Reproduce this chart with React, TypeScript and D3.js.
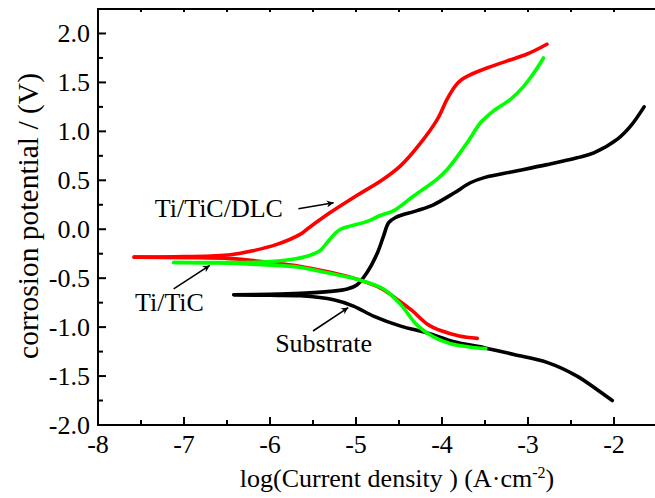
import React from 'react'
import * as d3 from 'd3'

// polarization curves, [log i, E]
const dlcAnodic: [number, number][] = [
  [-7.58, -0.285], [-7.0, -0.28], [-6.46, -0.26], [-6.2, -0.22], [-5.92, -0.155],
  [-5.645, -0.05], [-5.57, 0.0], [-5.3, 0.17], [-5.0, 0.34], [-4.7, 0.5],
  [-4.48, 0.65], [-4.25, 0.88], [-4.056, 1.12], [-3.94, 1.33], [-3.84, 1.47],
  [-3.77, 1.53], [-3.68, 1.575], [-3.47, 1.65], [-3.24, 1.72], [-3.01, 1.79], [-2.78, 1.89],
]
const dlcCathodic: [number, number][] = [
  [-7.58, -0.285], [-7.0, -0.29], [-6.46, -0.3], [-6.0, -0.34], [-5.645, -0.38],
  [-5.3, -0.44], [-4.99, -0.51], [-4.72, -0.6], [-4.5, -0.73], [-4.35, -0.83],
  [-4.17, -0.97], [-4.0, -1.04], [-3.8, -1.09], [-3.59, -1.115],
]
const ticAnodic: [number, number][] = [
  [-7.12, -0.34], [-6.6, -0.34], [-6.1, -0.335], [-5.76, -0.31], [-5.55, -0.27],
  [-5.42, -0.22], [-5.33, -0.13], [-5.25, -0.05], [-5.18, 0.0], [-4.87, 0.08],
  [-4.72, 0.14], [-4.56, 0.19], [-4.33, 0.34], [-4.06, 0.51], [-3.94, 0.61],
  [-3.71, 0.88], [-3.55, 1.09], [-3.4, 1.21], [-3.2, 1.33], [-3.05, 1.46],
  [-2.93, 1.6], [-2.82, 1.75],
]
const ticCathodic: [number, number][] = [
  [-7.12, -0.34], [-6.6, -0.345], [-6.15, -0.36], [-5.645, -0.39], [-5.37, -0.44],
  [-4.99, -0.51], [-4.68, -0.61], [-4.48, -0.77], [-4.29, -0.98], [-4.1, -1.1],
  [-3.9, -1.17], [-3.7, -1.2], [-3.49, -1.22],
]
const subAnodic: [number, number][] = [
  [-6.42, -0.67], [-6.0, -0.665], [-5.645, -0.655], [-5.3, -0.635], [-5.1, -0.61],
  [-4.99, -0.57], [-4.87, -0.44], [-4.75, -0.24], [-4.68, -0.07], [-4.62, 0.067],
  [-4.54, 0.12], [-4.29, 0.19], [-4.1, 0.25], [-3.86, 0.37], [-3.67, 0.475],
  [-3.5, 0.53], [-3.165, 0.59], [-2.78, 0.66], [-2.43, 0.73], [-2.235, 0.78],
  [-1.96, 0.92], [-1.81, 1.05], [-1.65, 1.25],
]
const subCathodic: [number, number][] = [
  [-6.42, -0.67], [-6.0, -0.675], [-5.645, -0.68], [-5.26, -0.72], [-5.03, -0.785],
  [-4.79, -0.89], [-4.48, -0.99], [-4.17, -1.06], [-3.86, -1.15], [-3.51, -1.21],
  [-3.165, -1.28], [-2.78, -1.36], [-2.43, -1.5], [-2.195, -1.64], [-2.02, -1.75],
]

const xMajor = [-8, -7, -6, -5, -4, -3, -2]
const xMinor = [-7.5, -6.5, -5.5, -4.5, -3.5, -2.5, -1.5]
const yMajor = [-2, -1.5, -1, -0.5, 0, 0.5, 1, 1.5, 2]
const yMinor = [-1.75, -1.25, -0.75, -0.25, 0.25, 0.75, 1.25, 1.75, 2.25]

// annotations: text, text pos, arrow from/to (data coords)
const notes = [
  { label: 'Ti/TiC/DLC', at: [-7.34, 0.12], from: [-5.67, 0.21], to: [-5.26, 0.27] },
  { label: 'Ti/TiC', at: [-7.57, -0.84], from: [-7.12, -0.61], to: [-6.7, -0.37] },
  { label: 'Substrate', at: [-5.94, -1.25], from: [-5.5, -1.04], to: [-5.09, -0.8] },
]

const font = '"Liberation Serif", "Times New Roman", serif'

export default function App() {
  const W = 655, H = 498
  const left = 98, top = 9, bottom = 425
  const x = d3.scaleLinear().domain([-8, -1.3]).range([left, left + 6.7 * 86])
  const y = d3.scaleLinear().domain([-2, 2.25]).range([bottom, top])
  const right = W + 5

  const line = d3.line<[number, number]>()
    .x(d => x(d[0]))
    .y(d => y(d[1]))
    .curve(d3.curveCatmullRom.alpha(0.5))

  const curves = [
    { color: '#000000', parts: [subAnodic, subCathodic] },
    { color: '#ff0000', parts: [dlcAnodic, dlcCathodic] },
    { color: '#00ff00', parts: [ticAnodic, ticCathodic] },
  ]

  return (
    <div style={{ position: 'absolute', left: 0, top: 0 }}>
      <svg width={W} height={H} style={{ display: 'block', background: '#fff' }}>
        <defs>
          <marker id="arr" viewBox="0 0 10 10" refX="10" refY="5" markerWidth="10" markerHeight="7"
            markerUnits="userSpaceOnUse" orient="auto">
            <path d="M0,0 L10,5 L0,10 L3,5 Z" fill="#000" />
          </marker>
        </defs>

        {curves.map((c, i) => c.parts.map((p, j) => (
          <path key={i + '-' + j} d={line(p) || ''} fill="none" stroke={c.color}
            strokeWidth={3.6} strokeLinecap="round" strokeLinejoin="round" />
        )))}

        {/* axes */}
        <g stroke="#000" strokeWidth={2} fill="none">
          <line x1={left} y1={top} x2={left} y2={bottom + 1} />
          <line x1={left - 1} y1={bottom} x2={right} y2={bottom} />
          <line x1={left - 1} y1={top} x2={right} y2={top} />
          {xMajor.map(v => <line key={'xb' + v} x1={x(v)} x2={x(v)} y1={bottom} y2={bottom - 8} />)}
          {xMinor.map(v => <line key={'xm' + v} x1={x(v)} x2={x(v)} y1={bottom} y2={bottom - 5} />)}
          {xMajor.concat(xMinor).map(v => <line key={'xt' + v} x1={x(v)} x2={x(v)} y1={top} y2={top + 3} />)}
          {yMajor.map(v => <line key={'yl' + v} x1={left} x2={left + 8} y1={y(v)} y2={y(v)} />)}
          {yMinor.map(v => <line key={'ym' + v} x1={left} x2={left + 5} y1={y(v)} y2={y(v)} />)}
        </g>

        <g fontFamily={font} fontSize={26} fill="#000">
          {xMajor.map(v => (
            <text key={'xl' + v} x={x(v)} y={453} textAnchor="middle">{String(v)}</text>
          ))}
          {yMajor.map(v => (
            <text key={'yt' + v} x={left - 8} y={y(v) + 9} textAnchor="end">{v.toFixed(1)}</text>
          ))}
          <text x={397} y={487} textAnchor="middle">
            log(Current density ) (A·cm<tspan dy={-9} fontSize={16}>-2</tspan><tspan dy={9}>)</tspan>
          </text>
          <text transform="translate(38,216) rotate(-90)" textAnchor="middle" fontSize={29.5}>
            corrosion potential / (V)
          </text>

          {notes.map(n => (
            <g key={n.label}>
              <text x={x(n.at[0])} y={y(n.at[1])}>{n.label}</text>
              <line x1={x(n.from[0])} y1={y(n.from[1])} x2={x(n.to[0])} y2={y(n.to[1])}
                stroke="#000" strokeWidth={1.6} markerEnd="url(#arr)" />
            </g>
          ))}
        </g>
      </svg>
    </div>
  )
}
